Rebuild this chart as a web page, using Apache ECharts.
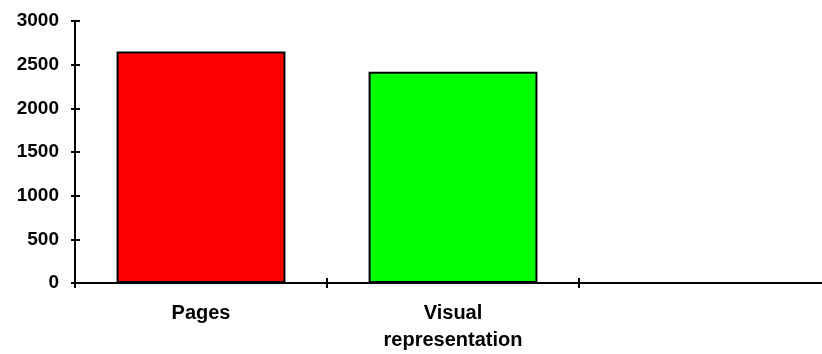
<!DOCTYPE html>
<html>
<head>
<meta charset="utf-8">
<script src="https://cdn.jsdelivr.net/npm/echarts@6/dist/echarts.min.js"></script>
<style>
html,body{margin:0;padding:0;background:#fff;overflow:hidden;width:822px;height:354px;}
#chart{width:831px;height:354px;}
</style>
</head>
<body>
<div id="chart"></div>
<script>
const categories = ['Pages', 'Visual\nrepresentation', ''];
const values = [2650, 2420, null];
const barColors = ['#FF0000', '#00FF00', '#0000FF'];
const yMin = 0, yMax = 3000, yInterval = 500;

const font = 'Liberation Sans, Arial, sans-serif';
const chart = echarts.init(document.getElementById('chart'), null, {renderer: 'canvas'});
const axisLine = {show: true, lineStyle: {color: '#000', width: 2}};
chart.setOption({
  animation: false,
  backgroundColor: '#fff',
  grid: {left: 75, top: 21, right: 0, bottom: 71, containLabel: false},
  xAxis: [{
    type: 'category', data: categories, position: 'bottom',
    axisLine: axisLine,
    axisTick: {show: true, inside: false, length: 5, lineStyle: {color: '#000', width: 2}},
    axisLabel: {color: '#000', fontFamily: font, fontWeight: 'bold', fontSize: 20, margin: 17, lineHeight: 27, interval: 0},
    splitLine: {show: false}
  }, {
    type: 'category', data: categories, position: 'bottom',
    axisLine: {show: false},
    axisTick: {show: true, inside: true, length: 5, lineStyle: {color: '#000', width: 2}},
    axisLabel: {show: false}, splitLine: {show: false}
  }],
  yAxis: [{
    type: 'value', min: yMin, max: yMax, interval: yInterval,
    axisLine: axisLine,
    axisTick: {show: true, inside: false, length: 4, lineStyle: {color: '#000', width: 2}},
    axisLabel: {color: '#000', fontFamily: font, fontWeight: 'bold', fontSize: 19, margin: 16, formatter: v => String(v)},
    splitLine: {show: false}
  }, {
    type: 'value', min: yMin, max: yMax, interval: yInterval, position: 'left',
    axisLine: {show: false},
    axisTick: {show: true, inside: true, length: 5, lineStyle: {color: '#000', width: 2}},
    axisLabel: {show: false}, splitLine: {show: false}
  }],
  series: [{
    type: 'bar',
    data: values.map((v, i) => ({value: v, itemStyle: {color: barColors[i]}})),
    barCategoryGap: '33%',
    itemStyle: {borderColor: '#000', borderWidth: 2},
    xAxisIndex: 0, yAxisIndex: 0
  }]
});
</script>
</body>
</html>
